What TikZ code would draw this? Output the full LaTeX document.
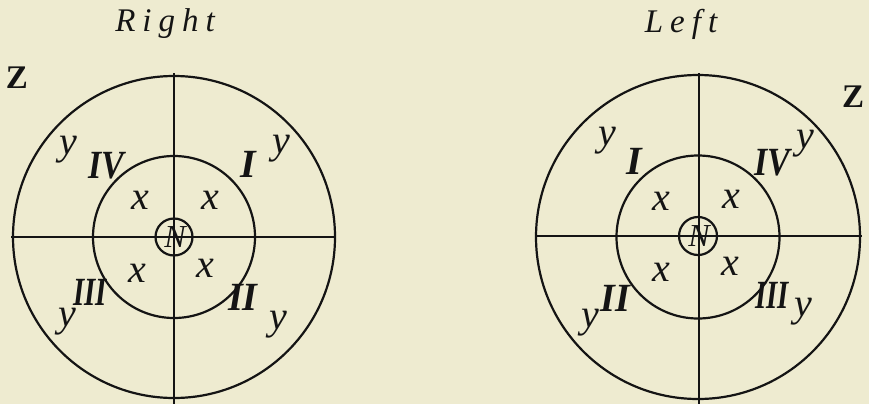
\documentclass[tikz,border=0pt]{standalone}
\usepackage{graphicx}
\usepackage{fontspec}
\setmainfont{Liberation Serif}
\definecolor{paper}{RGB}{238,235,208}
\definecolor{ink}{RGB}{20,20,20}
\newcommand{\spacedtitle}[1]{\fontsize{33}{36}\selectfont\itshape #1}
\newcommand{\rmn}[2]{\scalebox{#1}[1]{\fontsize{40}{42}\selectfont\bfseries\itshape #2}}
\begin{document}
\begin{tikzpicture}[x=1pt,y=-1pt,
  ring/.style={draw=ink,circle,line width=2.2pt,inner sep=0pt},
  axis/.style={draw=ink,line width=2pt},
  lab/.style={text=ink,inner sep=0pt,font=\fontsize{40}{42}\selectfont\itshape},
  enn/.style={text=ink,inner sep=0pt,font=\fontsize{32}{34}\selectfont\itshape},
  num/.style={text=ink,inner sep=0pt},
  ttl/.style={text=ink,inner sep=0pt,anchor=base},
  zed/.style={text=ink,inner sep=0pt,font=\fontsize{33}{35}\selectfont\bfseries}]
\fill[paper] (0,0) rectangle (869,404);
\useasboundingbox (0,0) rectangle (869,404);
% ---------- left figure (Right) ----------
\coordinate (cL) at (174,237);
\node[ring,minimum size=322pt] (oL) at (cL) {};
\node[ring,minimum size=162pt] (iL) at (cL) {};
\coordinate (tL) at (174,73);
\coordinate (bL) at (174,404);
\coordinate (lL) at (11,237);
\coordinate (rL) at (336,237);
\draw[axis] (tL) -- (bL);
\draw[axis] (lL) -- (rL);
\node[ring,minimum size=37pt] (nL) at (cL) {};
\node[enn] (NL) at (175,237) {N};
\node[ttl] (titleL) at (165,32) {\spacedtitle{R\hspace{7pt}i\hspace{7pt}g\hspace{7pt}h\hspace{7pt}t}};
\node[zed] (zL) at (17,78) {Z};
\node[lab] (y1L) at (68,150) {y};
\node[lab] (y2L) at (281,149) {y};
\node[lab] (y3L) at (67,322) {y};
\node[lab] (y4L) at (278,325) {y};
\node[lab] (x1L) at (140,200) {x};
\node[lab] (x2L) at (210,200) {x};
\node[lab] (x3L) at (137,273) {x};
\node[lab] (x4L) at (205,268) {x};
\node[num] (r4L) at (106,166) {\rmn{0.85}{IV}};
\node[num] (r1L) at (248,164) {\rmn{1}{I}};
\node[num] (r3L) at (90,292) {\rmn{0.72}{III}};
\node[num] (r2L) at (243,297) {\rmn{0.95}{II}};
% ---------- right figure (Left) ----------
\coordinate (cR) at (698,237);
\node[ring,minimum size=324pt] (oR) at (cR) {};
\node[ring,minimum size=163pt] (iR) at (cR) {};
\coordinate (tR) at (699,73);
\coordinate (bR) at (699,404);
\coordinate (lR) at (535,236);
\coordinate (rR) at (862,236);
\draw[axis] (tR) -- (bR);
\draw[axis] (lR) -- (rR);
\node[ring,minimum size=38pt] (nR) at (698,236) {};
\node[enn] (NR) at (699,236) {N};
\node[ttl] (titleR) at (681,33) {\spacedtitle{L\hspace{7pt}e\hspace{7pt}f\hspace{7pt}t}};
\node[zed] (zR) at (853,97) {Z};
\node[lab] (y1R) at (607,141) {y};
\node[lab] (y2R) at (805,144) {y};
\node[lab] (y3R) at (590,323) {y};
\node[lab] (y4R) at (803,312) {y};
\node[lab] (x1R) at (661,201) {x};
\node[lab] (x2R) at (731,199) {x};
\node[lab] (x3R) at (661,272) {x};
\node[lab] (x4R) at (730,266) {x};
\node[num] (r1R) at (634,161) {\rmn{1}{I}};
\node[num] (r4R) at (772,163) {\rmn{0.85}{IV}};
\node[num] (r2R) at (615,298) {\rmn{0.95}{II}};
\node[num] (r3R) at (772,295) {\rmn{0.72}{III}};
\end{tikzpicture}
\end{document}
